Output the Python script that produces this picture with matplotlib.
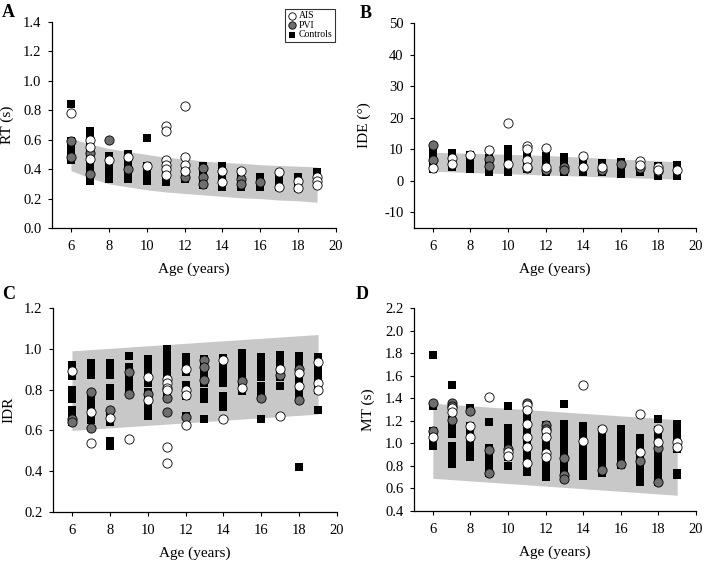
import matplotlib
matplotlib.use("Agg")
import matplotlib.pyplot as plt

plt.rcParams.update({
    "font.family": "serif",
    "font.serif": ["Liberation Serif", "DejaVu Serif"],
    "font.size": 10.5,
    "axes.linewidth": 0.9,
    "xtick.direction": "out",
    "ytick.direction": "out",
    "xtick.major.size": 3,
    "ytick.major.size": 3,
    "xtick.major.pad": 5.5,
    "ytick.major.pad": 4.5,
})

BAND = "#c8c8c8"
PVI_C = "#6e6e6e"

# ---------------------------------------------------------------- data
# A: RT (s)
A_ctl_x = [6, 6, 6, 6, 6, 6,
           7, 7, 7, 7, 7, 7, 7, 7, 7, 7,
           8, 8, 8, 8, 8,
           9, 9, 9, 9, 9, 9,
           10, 10, 10, 10, 10,
           11, 11, 11, 11, 11,
           12, 12, 12,
           13, 13, 13, 13, 13,
           14, 14, 14, 14, 14,
           15, 15, 15, 15,
           16, 16, 16,
           17, 17, 17,
           18, 18, 18,
           19, 19, 19]
A_ctl_y = [0.84, 0.46, 0.50, 0.53, 0.56, 0.59,
           0.32, 0.36, 0.40, 0.44, 0.48, 0.52, 0.56, 0.60, 0.63, 0.66,
           0.33, 0.37, 0.41, 0.45, 0.49,
           0.33, 0.36, 0.40, 0.44, 0.47, 0.50,
           0.61, 0.32, 0.36, 0.39, 0.42,
           0.31, 0.35, 0.39, 0.42, 0.45,
           0.33, 0.36, 0.40,
           0.29, 0.33, 0.37, 0.40, 0.42,
           0.28, 0.32, 0.36, 0.40, 0.42,
           0.28, 0.32, 0.35, 0.38,
           0.28, 0.31, 0.35,
           0.28, 0.31, 0.34,
           0.27, 0.31, 0.35,
           0.31, 0.35, 0.38]
A_pvi_x = [6, 6, 7, 7, 8, 9, 12, 13, 13, 13, 15, 15, 16]
A_pvi_y = [0.59, 0.48, 0.51, 0.37, 0.60, 0.40, 0.35, 0.41, 0.35, 0.30,
           0.33, 0.30, 0.31]
A_ais_x = [6, 7, 7, 7, 8, 9, 10, 11, 11, 11, 11, 11, 11, 12, 12, 12, 12,
           14, 14, 15, 17, 17, 18, 18, 19, 19, 19]
A_ais_y = [0.78, 0.60, 0.55, 0.47, 0.46, 0.48, 0.42, 0.69, 0.66, 0.46, 0.43,
           0.40, 0.36, 0.83, 0.48, 0.43, 0.39, 0.39, 0.31, 0.39, 0.38, 0.28,
           0.32, 0.27, 0.35, 0.32, 0.29]
A_band_x = [6, 7, 8, 9, 10, 11, 12, 13, 14, 15, 16, 17, 18, 19]
A_band_hi = [0.61, 0.57, 0.54, 0.52, 0.50, 0.48, 0.47, 0.455, 0.445, 0.44,
             0.43, 0.425, 0.42, 0.415]
A_band_lo = [0.39, 0.34, 0.30, 0.28, 0.26, 0.245, 0.235, 0.225, 0.215, 0.205,
             0.20, 0.19, 0.185, 0.175]

# B: IDE (deg)
B_ctl_x = [6, 6, 6, 6, 7, 7, 7, 8, 8, 8, 9, 9, 9, 10, 10, 10, 10,
           11, 11, 11, 12, 12, 12, 12, 13, 13, 13, 13, 14, 14, 14,
           15, 15, 15, 16, 16, 16, 17, 17, 17, 18, 18, 18, 19, 19, 19]
B_ctl_y = [3.6, 5.5, 7.5, 9.8, 4.3, 6.5, 8.8, 3.8, 6.0, 8.0, 2.6, 4.8, 7.2,
           2.9, 5.2, 7.5, 9.9, 3.8, 6.0, 8.2, 2.6, 4.8, 7.0, 7.7,
           2.6, 4.8, 7.0, 7.5, 2.9, 5.0, 7.3, 2.6, 4.5, 5.7, 2.0, 4.0, 5.9,
           2.7, 4.5, 5.1, 1.5, 3.2, 4.6, 1.5, 3.5, 5.1]
B_pvi_x = [6, 6, 9, 9, 11, 12, 13, 13, 15, 16, 17, 18]
B_pvi_y = [11.2, 6.5, 7.0, 4.6, 4.0, 3.5, 4.5, 3.3, 3.3, 5.3, 4.0, 3.0]
B_ais_x = [6, 7, 7, 8, 9, 10, 10, 11, 11, 11, 11, 12, 12, 14, 14, 15,
           17, 17, 18, 18, 19]
B_ais_y = [4.0, 7.2, 5.2, 8.0, 9.7, 18.2, 5.2, 11.0, 10.0, 6.5, 4.5, 10.3,
           4.4, 7.8, 4.4, 4.3, 6.3, 5.0, 4.5, 3.5, 3.4]
B_band_x = [6, 12, 19]
B_band_hi = [9.0, 8.0, 6.0]
B_band_lo = [3.0, 1.8, 0.5]

# C: IDR
C_ctl_x = [6] * 9 + [7] * 8 + [8] * 10 + [9] * 5 + [10] * 8 + [11] * 7 + \
          [12] * 7 + [13] * 7 + [14] * 7 + [15] * 6 + [16] * 7 + [17] * 5 + \
          [18] * 8 + [19] * 6
C_ctl_y = [0.865, 0.89, 0.92, 0.755, 0.78, 0.80, 0.64, 0.67, 0.70,
           0.87, 0.90, 0.93, 0.65, 0.69, 0.73, 0.76, 0.78,
           0.87, 0.90, 0.93, 0.77, 0.80, 0.81, 0.64, 0.67, 0.525, 0.55,
           0.965, 0.795, 0.83, 0.87, 0.91,
           0.67, 0.71, 0.75, 0.79, 0.83, 0.87, 0.91, 0.95,
           0.77, 0.81, 0.85, 0.89, 0.93, 0.96, 1.0,
           0.885, 0.92, 0.96, 0.77, 0.80, 0.825, 0.67,
           0.755, 0.79, 0.83, 0.87, 0.91, 0.95, 0.655,
           0.83, 0.87, 0.91, 0.955, 0.715, 0.75, 0.77,
           0.795, 0.83, 0.87, 0.91, 0.95, 0.98,
           0.78, 0.82, 0.86, 0.90, 0.94, 0.96, 0.655,
           0.82, 0.86, 0.90, 0.94, 0.97,
           0.755, 0.79, 0.83, 0.87, 0.91, 0.95, 0.965, 0.42,
           0.80, 0.84, 0.88, 0.92, 0.96, 0.70]
C_pvi_x = [6, 6, 7, 7, 8, 9, 9, 10, 11, 11, 12, 13, 13, 13, 15, 16, 17,
           18, 18]
C_pvi_y = [0.655, 0.64, 0.79, 0.61, 0.70, 0.885, 0.78, 0.78, 0.76, 0.69,
           0.665, 0.945, 0.91, 0.845, 0.84, 0.76, 0.87, 0.90, 0.75]
C_ais_x = [6, 7, 7, 8, 9, 10, 10, 11, 11, 11, 11, 11, 11, 12, 12, 12, 12,
           14, 14, 15, 17, 17, 18, 18, 19, 19, 19]
C_ais_y = [0.89, 0.69, 0.54, 0.66, 0.56, 0.86, 0.75, 0.85, 0.83, 0.81, 0.80,
           0.52, 0.44, 0.90, 0.80, 0.775, 0.625, 0.945, 0.655, 0.81, 0.90,
           0.67, 0.88, 0.82, 0.935, 0.83, 0.80]
C_band_x = [6, 19]
C_band_hi = [0.99, 1.07]
C_band_lo = [0.60, 0.68]

# D: MT (s)
D_ctl_x = [6] * 5 + [7] * 8 + [8] * 7 + [9] * 6 + [10] * 8 + [11] * 11 + \
          [12] * 9 + [13] * 10 + [14] * 9 + [15] * 8 + [16] * 7 + [17] * 8 + \
          [18] * 10 + [19] * 7
D_ctl_y = [1.78, 1.33, 0.98, 1.04, 1.11,
           1.52, 1.08, 1.14, 1.21, 0.82, 0.88, 0.94, 0.98,
           1.31, 0.88, 0.94, 1.00, 1.06, 1.12, 1.15,
           1.19, 0.74, 0.80, 0.86, 0.92, 0.96,
           1.33, 0.88, 0.94, 1.00, 1.06, 1.12, 1.14, 0.80,
           0.75, 0.81, 0.87, 0.93, 0.99, 1.05, 1.11, 1.17, 1.23, 1.29, 1.33,
           0.70, 0.76, 0.82, 0.88, 0.94, 1.00, 1.06, 1.12, 1.16,
           1.346, 0.69, 0.75, 0.81, 0.87, 0.93, 0.99, 1.05, 1.11, 1.17,
           0.71, 0.77, 0.83, 0.89, 0.95, 1.01, 1.07, 1.13, 1.15,
           0.74, 0.80, 0.86, 0.92, 0.98, 1.04, 1.10, 1.12,
           0.81, 0.87, 0.93, 0.99, 1.05, 1.10, 1.13,
           0.66, 0.72, 0.78, 0.84, 0.90, 0.96, 1.02, 1.05,
           1.213, 0.66, 0.72, 0.78, 0.84, 0.90, 0.96, 1.02, 1.08, 1.12,
           0.95, 1.01, 1.07, 1.13, 1.17, 0.72, 0.74]
D_pvi_x = [6, 6, 7, 7, 7, 8, 9, 9, 10, 11, 12, 12, 13, 13, 13, 15, 16, 17,
           18, 18]
D_pvi_y = [1.36, 1.11, 1.36, 1.33, 1.21, 1.29, 0.94, 0.74, 0.95, 1.36, 1.16,
           1.13, 0.87, 0.72, 0.68, 0.76, 0.82, 0.84, 0.96, 0.66]
D_ais_x = [6, 7, 7, 8, 8, 9, 10, 10, 11, 11, 11, 11, 11, 11, 12, 12, 12,
           12, 14, 14, 15, 17, 17, 18, 18, 19, 19]
D_ais_y = [1.06, 1.31, 1.28, 1.15, 1.06, 1.41, 0.92, 0.89, 1.34, 1.30, 1.17,
           1.06, 0.97, 0.83, 1.11, 1.06, 0.91, 0.88, 1.52, 1.02, 1.13, 1.26,
           0.92, 1.13, 1.01, 1.01, 0.97]
D_band_x = [6, 19]
D_band_hi = [1.355, 1.21]
D_band_lo = [0.69, 0.54]

AGE_TICKS = [6, 8, 10, 12, 14, 16, 18, 20]

# ---------------------------------------------------------------- plot
fig = plt.figure(figsize=(7.06, 5.64), dpi=100)
W, H = 706.0, 564.0


def panel(rect, letter, letter_xy, ylabel, ylim, yticks, yfmt,
          ctl, pvi, ais, band, ylab_x):
    l, t, r, b = rect
    ax = fig.add_axes([l / W, 1 - b / H, (r - l) / W, (b - t) / H])
    ax.fill_between(band[0], band[1], band[2], color=BAND, lw=0, zorder=1)
    ax.scatter(ctl[0], ctl[1], s=38, marker="s", color="black", lw=0,
               zorder=2, label="Controls")
    ax.scatter(pvi[0], pvi[1], s=44, marker="o", facecolor=PVI_C,
               edgecolor="black", lw=0.6, zorder=3, label="PVI")
    ax.scatter(ais[0], ais[1], s=44, marker="o", facecolor="white",
               edgecolor="black", lw=0.6, zorder=4, label="AIS")
    ax.set_xlim(5, 20)
    ax.set_ylim(*ylim)
    ax.set_xticks(AGE_TICKS)
    ax.set_yticks(yticks)
    ax.set_yticklabels([yfmt.format(v) for v in yticks])
    ax.spines["top"].set_visible(False)
    ax.spines["right"].set_visible(False)
    ax.set_xlabel("Age (years)", fontsize=11)
    ax.set_ylabel(ylabel, fontsize=11)
    ax.xaxis.set_label_coords(0.5, -35.0 / (b - t))
    ax.yaxis.set_label_coords(ylab_x, 0.5)
    fig.text(letter_xy[0] / W, 1 - letter_xy[1] / H, letter, fontsize=13,
             weight="bold", ha="left", va="baseline")
    return ax


axA = panel((52, 22, 336, 228), "A", (2, 17), "RT (s)", (0, 1.4),
            [0, 0.2, 0.4, 0.6, 0.8, 1.0, 1.2, 1.4], "{:.1f}",
            (A_ctl_x, A_ctl_y), (A_pvi_x, A_pvi_y), (A_ais_x, A_ais_y),
            (A_band_x, A_band_hi, A_band_lo), -0.134)
panel((414, 23, 696, 228), "B", (360, 18), "IDE (\u00b0)", (-15, 50),
      [-10, 0, 10, 20, 30, 40, 50], "{:.0f}",
      (B_ctl_x, B_ctl_y), (B_pvi_x, B_pvi_y), (B_ais_x, B_ais_y),
      (B_band_x, B_band_hi, B_band_lo), -0.152)
panel((53, 308, 337, 512), "C", (2, 299), "IDR", (0.2, 1.2),
      [0.2, 0.4, 0.6, 0.8, 1.0, 1.2], "{:.1f}",
      (C_ctl_x, C_ctl_y), (C_pvi_x, C_pvi_y), (C_ais_x, C_ais_y),
      (C_band_x, C_band_hi, C_band_lo), -0.134)
panel((414, 308, 696, 511), "D", (356, 299), "MT (s)", (0.4, 2.2),
      [0.4, 0.6, 0.8, 1.0, 1.2, 1.4, 1.6, 1.8, 2.0, 2.2], "{:.1f}",
      (D_ctl_x, D_ctl_y), (D_pvi_x, D_pvi_y), (D_ais_x, D_ais_y),
      (D_band_x, D_band_hi, D_band_lo), -0.138)

h, lab = axA.get_legend_handles_labels()
order = [2, 1, 0]
leg = axA.legend([h[i] for i in order], [lab[i] for i in order],
                 loc="upper right", bbox_to_anchor=(335 / W, 1 - 9 / H),
                 bbox_transform=fig.transFigure, borderaxespad=0,
                 fontsize=7, frameon=True, fancybox=False, edgecolor="black",
                 handletextpad=0.2, borderpad=0.25, labelspacing=0.05,
                 handlelength=1.0, markerscale=0.8)
leg.get_frame().set_linewidth(0.8)

fig.savefig("out.png", dpi=100)
